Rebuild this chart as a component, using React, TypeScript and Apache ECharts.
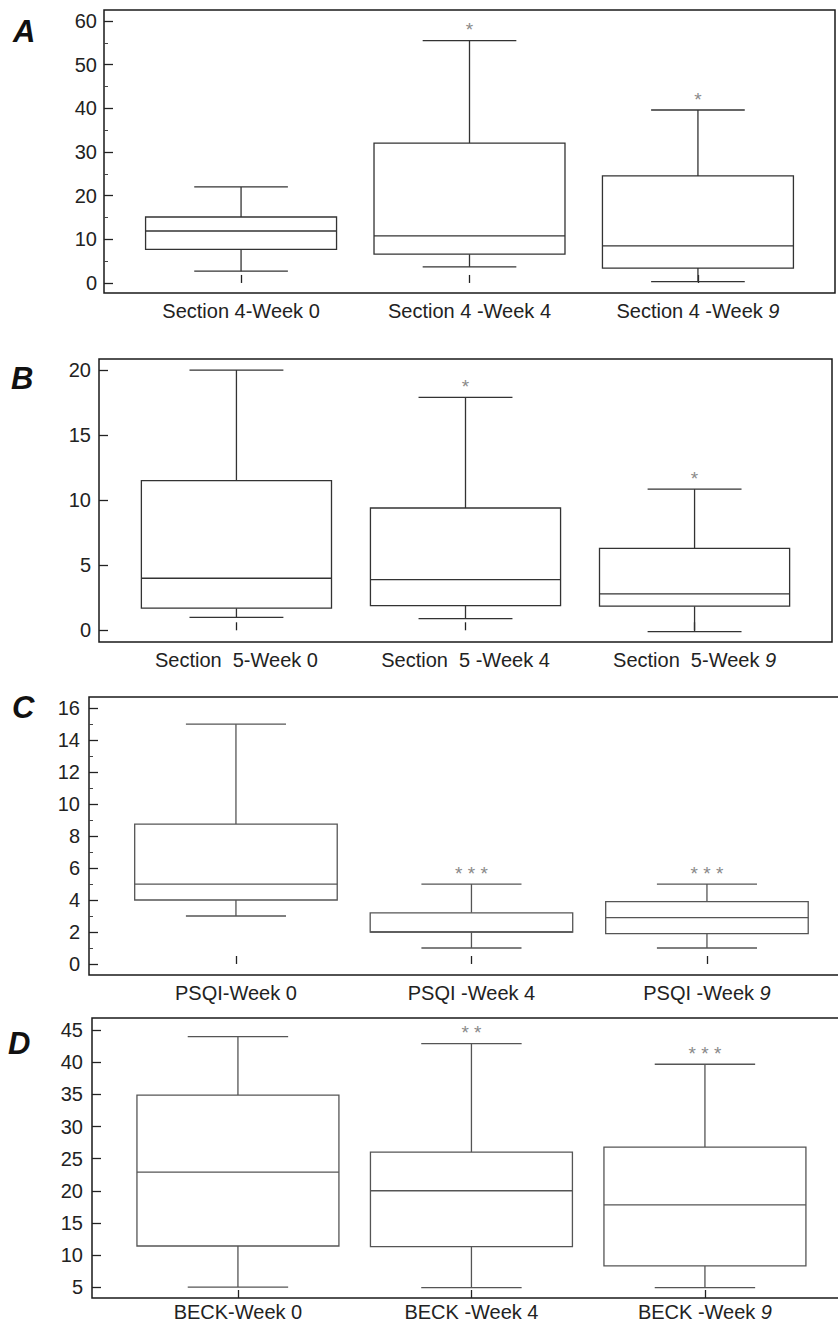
import React, { useEffect, useRef } from "react";
import * as echarts from "echarts";

// ---------------- DATA ----------------
// box values: [min, Q1, median, Q3, max]
const categoriesA = ["Section 4-Week 0", "Section 4 -Week 4", "Section 4 -Week 9"];
const boxesA = [
  [2.7, 7.7, 11.9, 15.1, 22],
  [3.7, 6.6, 10.8, 32, 55.5],
  [0.3, 3.4, 8.5, 24.5, 39.6],
];
const starsA = ["", "*", "*"];
const yLabelsA = [0, 10, 20, 30, 40, 50, 60];
const yMinorA = [5, 15, 25, 35, 45, 55];

const categoriesB = ["Section  5-Week 0", "Section  5 -Week 4", "Section  5-Week 9"];
const boxesB = [
  [1.0, 1.7, 4.0, 11.5, 20],
  [0.9, 1.9, 3.9, 9.4, 17.9],
  [-0.1, 1.85, 2.8, 6.3, 10.85],
];
const starsB = ["", "*", "*"];
const yLabelsB = [0, 5, 10, 15, 20];
const yMinorB: number[] = [];

const categoriesC = ["PSQI-Week 0", "PSQI -Week 4", "PSQI -Week 9"];
const boxesC = [
  [3, 4, 5, 8.75, 15],
  [1, 2, 2, 3.2, 5],
  [1, 1.9, 2.9, 3.9, 5],
];
const starsC = ["", "* * *", "* * *"];
const yLabelsC = [0, 2, 4, 6, 8, 10, 12, 14, 16];
const yMinorC = [1, 3, 5, 7, 9, 11, 13, 15];

const categoriesD = ["BECK-Week 0", "BECK -Week 4", "BECK -Week 9"];
const boxesD = [
  [5, 11.4, 22.9, 34.9, 44],
  [4.9, 11.3, 20, 26, 42.9],
  [4.9, 8.3, 17.8, 26.8, 39.7],
];
const starsD = ["", "* *", "* * *"];
const yLabelsD = [5, 10, 15, 20, 25, 30, 35, 40, 45];
const yMinorD: number[] = [];

// ---------------- LAYOUT / STYLE ----------------
const FONT = "'Liberation Sans', Arial, Helvetica, sans-serif";
const FS = 20;

const panels = [
  {
    letter: "A", letterX: 13, letterY: 31,
    categories: categoriesA, boxes: boxesA, stars: starsA, yLabels: yLabelsA, yMinor: yMinorA,
    left: 104, top: 10, width: 731, height: 283,
    xMin: 0.4, xMax: 3.6, yMin: -2.3, yMax: 62.5,
    boxW: 0.836, capW: 0.41, color: "#333", labelMargin: 7, xLabelMargin: 8,
  },
  {
    letter: "B", letterX: 11, letterY: 378,
    categories: categoriesB, boxes: boxesB, stars: starsB, yLabels: yLabelsB, yMinor: yMinorB,
    left: 99, top: 359, width: 733, height: 283,
    xMin: 0.4, xMax: 3.6, yMin: -0.9, yMax: 20.85,
    boxW: 0.83, capW: 0.41, color: "#333", labelMargin: 8, xLabelMargin: 8,
  },
  {
    letter: "C", letterX: 12, letterY: 707,
    categories: categoriesC, boxes: boxesC, stars: starsC, yLabels: yLabelsC, yMinor: yMinorC,
    left: 89, top: 697, width: 800, height: 278,
    xMin: 0.376, xMax: 0.376 + 800 / 235.5, yMin: -0.69, yMax: 16.7,
    boxW: 0.86, capW: 0.425, color: "#555", labelMargin: 9, xLabelMargin: 8,
  },
  {
    letter: "D", letterX: 8, letterY: 1043,
    categories: categoriesD, boxes: boxesD, stars: starsD, yLabels: yLabelsD, yMinor: yMinorD,
    left: 92, top: 1018, width: 800, height: 280,
    xMin: 0.375, xMax: 0.375 + 800 / 233.5, yMin: 3.3, yMax: 46.9,
    boxW: 0.865, capW: 0.43, color: "#555", labelMargin: 9, xLabelMargin: 4,
  },
];

function makeRender(boxW: number, capW: number, color: string, stars: string[]) {
  return (params: any, api: any) => {
    const x = api.value(0);
    const mn = api.value(1);
    const q1 = api.value(2);
    const md = api.value(3);
    const q3 = api.value(4);
    const mx = api.value(5);
    const xc = api.coord([x, md])[0];
    const y = (v: number) => api.coord([x, v])[1];
    const bw = api.size([boxW, 0])[0];
    const cw = api.size([capW, 0])[0];
    const style = { stroke: color, lineWidth: 1.3, fill: null };
    const children: any[] = [
      { type: "line", shape: { x1: xc, y1: y(q3), x2: xc, y2: y(mx) }, style },
      { type: "line", shape: { x1: xc, y1: y(q1), x2: xc, y2: y(mn) }, style },
      { type: "line", shape: { x1: xc - cw / 2, y1: y(mx), x2: xc + cw / 2, y2: y(mx) }, style },
      { type: "line", shape: { x1: xc - cw / 2, y1: y(mn), x2: xc + cw / 2, y2: y(mn) }, style },
      {
        type: "rect",
        shape: { x: xc - bw / 2, y: y(q3), width: bw, height: y(q1) - y(q3) },
        style: { stroke: color, lineWidth: 1.3, fill: "#fff" },
      },
      { type: "line", shape: { x1: xc - bw / 2, y1: y(md), x2: xc + bw / 2, y2: y(md) }, style },
    ];
    const s = stars[params.dataIndex];
    if (s) {
      children.push({
        type: "text",
        x: xc,
        y: y(mx) - 11,
        style: {
          text: s,
          fill: "#8a8a8a",
          fontSize: 19,
          fontFamily: FONT,
          align: "center",
          verticalAlign: "middle",
        },
      });
    }
    return { type: "group", children };
  };
}

export default function App() {
  const ref = useRef<HTMLDivElement>(null);
  useEffect(() => {
    document.body.style.margin = "0";
    const chart = echarts.init(ref.current!, null, { renderer: "svg" });
    const grid: any[] = [];
    const xAxis: any[] = [];
    const yAxis: any[] = [];
    const series: any[] = [];
    const graphic: any[] = [];
    panels.forEach((p, i) => {
      grid.push({
        left: p.left,
        top: p.top,
        width: p.width,
        height: p.height,
        containLabel: false,
        outerBoundsMode: "none",
        show: true,
        borderColor: "#1a1a1a",
        borderWidth: 1.5,
        backgroundColor: "transparent",
      });
      xAxis.push({
        type: "value",
        gridIndex: i,
        min: p.xMin,
        max: p.xMax,
        axisLine: { show: false },
        splitLine: { show: false },
        axisTick: {
          show: true,
          inside: true,
          length: 8,
          customValues: [1, 2, 3],
          lineStyle: { color: "#222", width: 1.3 },
        },
        axisLabel: {
          show: true,
          customValues: [1, 2, 3],
          margin: p.xLabelMargin,
          fontSize: FS,
          fontFamily: FONT,
          color: "#222",
          formatter: (v: number) => {
            const lbl = p.categories[Math.round(v) - 1] || "";
            if (lbl.endsWith("9")) return lbl.slice(0, -1) + "{it|9}";
            return lbl;
          },
          rich: {
            it: { fontStyle: "italic", fontSize: FS, fontFamily: FONT, color: "#222" },
          },
        },
      });
      yAxis.push({
        type: "value",
        gridIndex: i,
        position: "left",
        min: p.yMin,
        max: p.yMax,
        axisLine: { show: false },
        splitLine: { show: false },
        axisTick: {
          show: true,
          inside: true,
          length: 9,
          customValues: p.yLabels,
          lineStyle: { color: "#222", width: 1.3 },
        },
        axisLabel: {
          show: true,
          customValues: p.yLabels,
          margin: p.labelMargin,
          fontSize: FS,
          fontFamily: FONT,
          color: "#222",
        },
      });
      yAxis.push({
        type: "value",
        gridIndex: i,
        position: "left",
        offset: 0,
        min: p.yMin,
        max: p.yMax,
        axisLine: { show: false },
        splitLine: { show: false },
        axisLabel: { show: false },
        axisTick: {
          show: p.yMinor.length > 0,
          inside: true,
          length: 4,
          customValues: p.yMinor.length ? p.yMinor : [p.yMin],
          lineStyle: { color: "#444", width: 1 },
        },
      });
      series.push({
        type: "custom",
        xAxisIndex: i,
        yAxisIndex: i * 2,
        renderItem: makeRender(p.boxW, p.capW, p.color, p.stars),
        encode: { x: 0, y: [1, 2, 3, 4, 5] },
        data: p.boxes.map((b, k) => [k + 1, ...b]),
        silent: true,
      });
      graphic.push({
        type: "text",
        x: p.letterX,
        y: p.letterY,
        style: {
          text: p.letter,
          fontSize: 31,
          fontWeight: "bold",
          fontStyle: "italic",
          fontFamily: FONT,
          fill: "#111",
          align: "left",
          verticalAlign: "middle",
        },
      });
    });
    chart.setOption({
      animation: false,
      backgroundColor: "#fff",
      grid,
      xAxis,
      yAxis,
      series,
      graphic,
    });
    return () => chart.dispose();
  }, []);
  return <div ref={ref} style={{ width: 838, height: 1325, overflow: "hidden" }} />;
}
